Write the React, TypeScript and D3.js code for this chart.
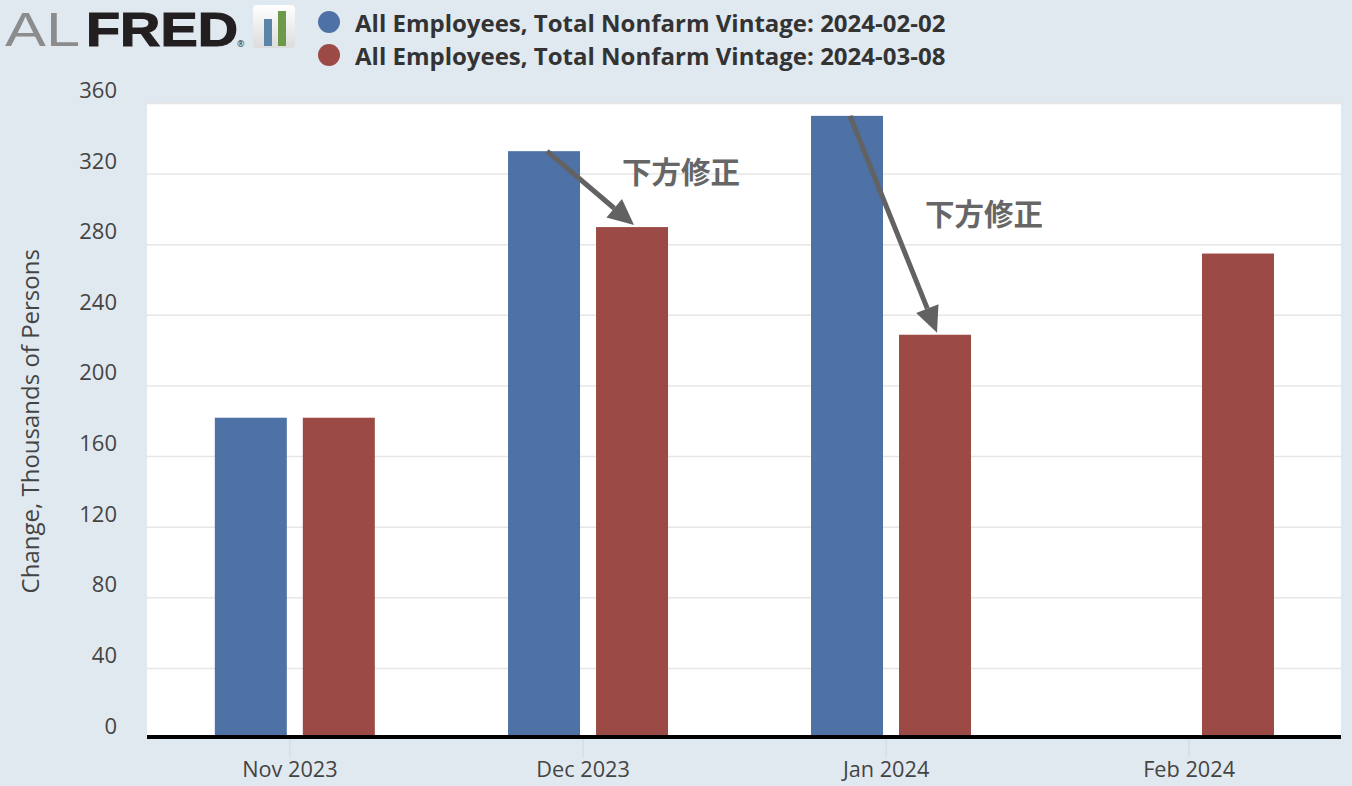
import React from "react";
import * as d3 from "d3";

// ---- data ----
const months: string[] = ["2023-11-01", "2023-12-01", "2024-01-01", "2024-02-01"];
const vintageFeb: (number | null)[] = [182, 333, 353, null];
const vintageMar: (number | null)[] = [182, 290, 229, 275];
const seriesNames: string[] = [
  "All Employees, Total Nonfarm Vintage: 2024-02-02",
  "All Employees, Total Nonfarm Vintage: 2024-03-08",
];
const yTicks: number[] = [0, 40, 80, 120, 160, 200, 240, 280, 320, 360];
const annotationMonths: string[] = ["2023-12-01", "2024-01-01"];
const annotationLabels: string[] = ["下方修正", "下方修正"];
const annotationLabelValues: number[] = [315, 291];
const yAxisTitle = "Change, Thousands of Persons";

// ---- style ----
const W = 1352;
const H = 786;
const BG = "#e1e9f0";
const BLUE = "#4e72a6";
const RED = "#9c4a46";
const FONT = "'Open Sans', sans-serif";
const CJK = "'Noto Sans CJK JP', sans-serif";

const left = 147;
const right = 1341;
const top = 103.5;
const zeroY = 739;

const parse = (s: string) => new Date(s + "T00:00:00Z");

export default function App() {
  const x = d3
    .scaleUtc()
    .domain([new Date(Date.UTC(2023, 9, 17, 9)), new Date(Date.UTC(2024, 1, 16, 13))])
    .range([left, right]);
  const y = d3.scaleLinear().domain([0, 360]).range([zeroY, top]);
  const fmt = d3.utcFormat("%b %Y");
  const barW = 72;
  const off = 44;
  const center = (m: string) => x(d3.utcHour.offset(parse(m), 12));

  const series = [
    { values: vintageFeb, color: BLUE, dx: -off },
    { values: vintageMar, color: RED, dx: off },
  ];

  const arrows = annotationMonths.map((m, i) => {
    const idx = months.indexOf(m);
    const c = center(m);
    const x0 = c - off + 3;
    const y0 = y(vintageFeb[idx] as number);
    const x1 = c + off + 2;
    const y1 = y(vintageMar[idx] as number) - 2;
    const ang = Math.atan2(y1 - y0, x1 - x0);
    const hl = 26;
    const hw = 12;
    const bx = x1 - hl * Math.cos(ang);
    const by = y1 - hl * Math.sin(ang);
    const px = -Math.sin(ang) * hw;
    const py = Math.cos(ang) * hw;
    return {
      x0,
      y0,
      bx,
      by,
      head: `${x1},${y1} ${bx + px},${by + py} ${bx - px},${by - py}`,
      lx: c + off + 49,
      ly: y(annotationLabelValues[i]),
      label: annotationLabels[i],
    };
  });

  return (
    <svg
      width={W}
      height={H}
      style={{ position: "absolute", left: 0, top: 0, display: "block" }}
    >
      <defs>
        <linearGradient id="icong" x1="0" y1="0" x2="0" y2="1">
          <stop offset="0" stopColor="#ffffff" />
          <stop offset="1" stopColor="#dcdcdc" />
        </linearGradient>
      </defs>
      <rect x={0} y={0} width={W} height={H} fill={BG} />

      {/* logo */}
      <text x={5} y={45.5} fontFamily="'Liberation Sans', sans-serif" fontWeight={400} fontSize={49} fill="#8c8c8c" textLength={75} lengthAdjust="spacingAndGlyphs">AL</text>
      <text x={86} y={45.5} fontFamily="'Liberation Sans', sans-serif" fontWeight={700} fontSize={49} fill="#231f20" textLength={152} lengthAdjust="spacingAndGlyphs" stroke="#231f20" strokeWidth={1.2}>FRED</text>
      <text x={237} y={47} fontFamily={FONT} fontSize={9} fill="#231f20">®</text>
      <rect x={253} y={5} width={42} height={43} rx={4} fill="url(#icong)" />
      <rect x={264} y={19} width={8} height={27} fill="#5a84a8" />
      <rect x={278} y={11} width={8} height={35} fill="#6d9a48" />

      {/* legend */}
      {seriesNames.map((n, i) => (
        <g key={n}>
          <circle cx={329} cy={22 + i * 33} r={11} fill={i === 0 ? BLUE : RED} />
          <text x={355} y={32 + i * 33} fontFamily={FONT} fontWeight={700} fontSize={24} fill="#333">
            {n}
          </text>
        </g>
      ))}

      {/* plot */}
      <rect x={left} y={top} width={right - left} height={zeroY - top} fill="#fff" />
      {yTicks.map((t) => (
        <g key={t}>
          {t !== 0 && (
            <line x1={left} x2={right} y1={y(t)} y2={y(t)} stroke="#e6e6e6" strokeWidth={1.5} />
          )}
          <text x={117} y={y(t) - 5.5} textAnchor="end" fontFamily={FONT} fontSize={22} fill="#444">
            {t}
          </text>
        </g>
      ))}
      <text
        transform={`translate(39,${(top + zeroY) / 2}) rotate(-90)`}
        textAnchor="middle"
        fontFamily={FONT}
        fontSize={24}
        fill="#444"
      >
        {yAxisTitle}
      </text>

      {series.map((s, si) =>
        months.map((m, i) => {
          const v = s.values[i];
          if (v == null) return null;
          const c = center(m) + s.dx;
          return (
            <rect
              key={si + "-" + m}
              x={c - barW / 2}
              y={y(v)}
              width={barW}
              height={zeroY - y(v)}
              fill={s.color}
            />
          );
        })
      )}

      <line x1={left} x2={right} y1={737} y2={737} stroke="#000" strokeWidth={4} />
      {months.map((m) => {
        const tx = x(parse(m));
        return (
          <g key={m}>
            <line x1={tx} x2={tx} y1={739} y2={757} stroke="#ccd6eb" strokeWidth={1} />
            <text x={tx} y={776.5} textAnchor="middle" fontFamily={FONT} fontSize={21.7} fill="#444">
              {fmt(parse(m))}
            </text>
          </g>
        );
      })}

      {/* annotations */}
      {arrows.map((a, i) => (
        <g key={i}>
          <line x1={a.x0} y1={a.y0} x2={a.bx} y2={a.by} stroke="#626262" strokeWidth={5} />
          <polygon points={a.head} fill="#626262" />
          <text x={a.lx} y={a.ly} textAnchor="middle" fontFamily={CJK} fontWeight={700} fontSize={29.5} fill="#666">
            {a.label}
          </text>
        </g>
      ))}
    </svg>
  );
}
